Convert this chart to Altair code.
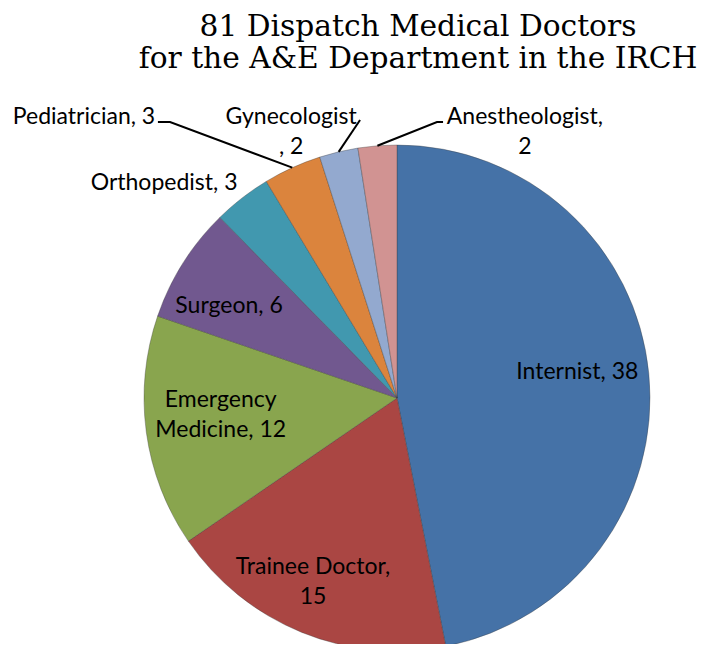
import math
import numpy as np
import pandas as pd
import altair as alt

# ---------------- data ----------------
names = ["Internist", "Trainee Doctor", "Emergency Medicine", "Surgeon",
         "Orthopedist", "Pediatrician", "Gynecologist", "Anesthesiologist"]
counts = [38, 15, 12, 6, 3, 3, 2, 2]
label_texts = ["Internist, 38", "Trainee Doctor,\n15", "Emergency\nMedicine, 12",
               "Surgeon, 6", "Orthopedist, 3", "Pediatrician, 3",
               "Gynecologist\n, 2", "Anestheologist,\n2"]
colors = ["#4572A7", "#AA4643", "#89A54E", "#71588F",
          "#4198AF", "#DB843D", "#93A9CF", "#D19392"]
title_text = "81 Dispatch Medical Doctors\nfor the A&E Department in the IRCH"

# ---------------- layout (annotation placement) ----------------
R = 253                       # pie radius in px
W, H = 693, 636               # view size
CX, CY = 389, 390             # pie centre inside view
LH = 30                       # label line height
label_shift_deg = [-2.6, 2.3, 2.3, -3.5, -9.5, -23.64, -8.4, 30.1]
label_r = [0.72, 0.80, 0.70, 0.757, 1.253, 1.6626, 1.13, 1.167]
# leader line extra points (in radius units) after the rim point
leaders = {
    "Pediatrician": [(-0.897, 1.091), (-0.945, 1.091)],
    "Gynecologist": [(-0.146, 1.099)],
    "Anesthesiologist": [(0.158, 1.091), (0.182, 1.091)],
}

# ---------------- derived tables ----------------
total = sum(counts)
cum = np.cumsum(counts)
start = cum - np.array(counts)
mid_deg = (start + np.array(counts) / 2) / total * 360.0

pie_df = pd.DataFrame({"idx": range(len(names)), "name": names, "count": counts})

lab_ang = np.radians(mid_deg + np.array(label_shift_deg))
nlines = np.array([t.count("\n") for t in label_texts])
lab_df = pd.DataFrame({
    "name": names,
    "label": label_texts,
    "lx": np.array(label_r) * np.sin(lab_ang),
    # first line sits above the block centre by half the extra lines
    "ly": np.array(label_r) * np.cos(lab_ang) + nlines * LH / 2 / R,
})

rows = []
for n, pts in leaders.items():
    i = names.index(n)
    a = math.radians(mid_deg[i])
    rows.append({"name": n, "seq": 0, "x": math.sin(a), "y": math.cos(a)})
    for k, (px, py) in enumerate(pts):
        rows.append({"name": n, "seq": k + 1, "x": px, "y": py})
lead_df = pd.DataFrame(rows)

xs = alt.Scale(domain=[-CX / R, (W - CX) / R], nice=False, zero=False)
ys = alt.Scale(domain=[-(H - CY) / R, CY / R], nice=False, zero=False)

pie = alt.Chart(pie_df).mark_arc(radius=R, stroke="#3a3a3a", strokeOpacity=0.35,
                                 strokeWidth=1).encode(
    theta=alt.Theta("count:Q", stack=True),
    order=alt.Order("idx:Q"),
    color=alt.Color("name:N", scale=alt.Scale(domain=names, range=colors), legend=None),
    x=alt.datum(0, scale=xs, axis=None),
    y=alt.datum(0, scale=ys, axis=None),
)

labels = alt.Chart(lab_df).mark_text(font="Lato", fontSize=23, color="#000000",
                                     lineBreak="\n", lineHeight=LH,
                                     align="center", baseline="middle").encode(
    x=alt.X("lx:Q", scale=xs, axis=None),
    y=alt.Y("ly:Q", scale=ys, axis=None),
    text="label:N",
)

lines = alt.Chart(lead_df).mark_line(color="#000000", strokeWidth=2).encode(
    x=alt.X("x:Q", scale=xs, axis=None),
    y=alt.Y("y:Q", scale=ys, axis=None),
    detail="name:N",
    order="seq:Q",
)

title = alt.Chart(pd.DataFrame({"t": [title_text]})).mark_text(
    font="DejaVu Serif", fontSize=29.7, color="#000000", lineBreak="\n",
    lineHeight=32, align="center", baseline="alphabetic"
).encode(
    text="t:N",
    x=alt.value(410),
    y=alt.value(28),
)

chart = alt.layer(pie, lines, labels, title).properties(
    width=W, height=H, padding=0, autosize="none"
).configure_view(stroke=None)

chart.save("out.html", embed_options={"renderer": "svg", "actions": False})
